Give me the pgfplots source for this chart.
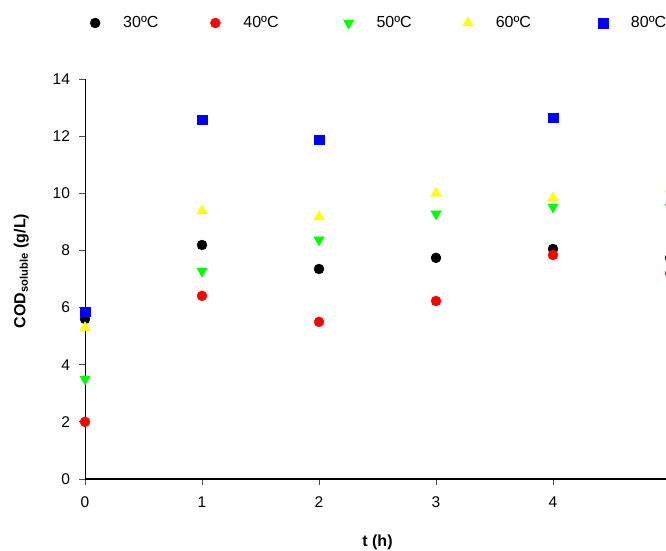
\documentclass[border=0pt]{standalone}
\usepackage{fontspec}
\setmainfont{Liberation Sans}
\usepackage{pgfplots}
\pgfplotsset{compat=1.18}
\begin{document}
\begin{tikzpicture}
\begin{axis}[
  at={(85pt,71pt)}, anchor=south west,
  scale only axis, width=585pt, height=400pt,
  xmin=0, xmax=5, ymin=0, ymax=14,
  axis lines=left,
  axis line style={-},
  x axis line style={line width=1.6pt},
  y axis line style={line width=0.8pt},
  xtick={0,1,2,3,4,5}, ytick={0,2,4,6,8,10,12,14},
  tick align=outside, major tick length=5.5pt,
  tick style={black!70, line width=0.8pt},
  /pgf/number format/assume math mode=true,
  ticklabel style={font=\fontsize{15.5}{18}\selectfont},
  xticklabel style={yshift=-9pt},
  yticklabel style={xshift=-6pt},
  xlabel={\textbf{t (h)}},
  ylabel={\textbf{COD\textsubscript{soluble} (g/L)}},
  label style={font=\fontsize{16}{19}\selectfont},
  xlabel style={at={(axis description cs:0.5,-0.1575)}, anchor=center},
  ylabel style={at={(axis description cs:-0.109,0.52)}, anchor=center},
  clip=false,
  legend columns=5,
  legend style={draw=none, fill=none, at={(axis description cs:-0.0034,1.14)}, anchor=west,
    font=\fontsize{16}{19}\selectfont,
    /tikz/column 2/.style={column sep=46pt},
    /tikz/column 4/.style={column sep=59pt},
    /tikz/column 6/.style={column sep=45pt},
    /tikz/column 8/.style={column sep=61pt}},
  legend image code/.code={\path[draw=none] (-9pt,0pt) -- (26pt,0pt); \path[draw=none,#1] plot[only marks] coordinates {(0pt,0pt)};},
]
\addplot[only marks, mark=*, mark size=5pt, black] coordinates {(0,5.6) (1,8.19) (2,7.35) (3,7.74) (4,8.05) (5,7.74)};
\addlegendentry{30ºC}
\addplot[only marks, mark=*, mark size=5pt, red] coordinates {(0,2.0) (1,6.41) (2,5.5) (3,6.23) (4,7.84) (5,7.2)};
\addlegendentry{40ºC}
\addplot[only marks, mark=triangle*, mark size=6pt, color={rgb,255:red,0;green,255;blue,0}, mark options={rotate=180}] coordinates {(0,3.5) (1,7.28) (2,8.37) (3,9.28) (4,9.52) (5,9.52)};
\addlegendentry{50ºC}
\addplot[only marks, mark=triangle*, mark size=6pt, color={rgb,255:red,255;green,255;blue,0}] coordinates {(0,5.3) (1,9.38) (2,9.17) (3,10.0) (4,9.84) (5,10.15)};
\addlegendentry{60ºC}
\addplot[only marks, mark=square*, mark size=4.8pt, blue] coordinates {(0,5.85) (1,12.57) (2,11.87) (4,12.64)};
\addlegendentry{80ºC}
\end{axis}
\pgfresetboundingbox
\useasboundingbox (0,0) rectangle (666pt,550pt);
\end{tikzpicture}
\end{document}
